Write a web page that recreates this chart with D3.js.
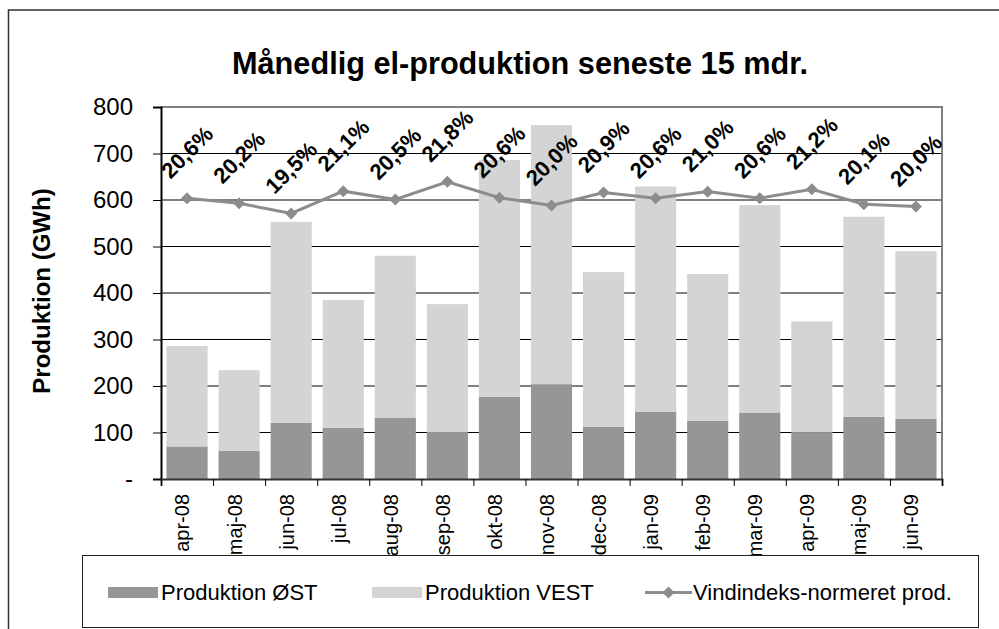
<!DOCTYPE html>
<html>
<head>
<meta charset="utf-8">
<script src="https://cdn.jsdelivr.net/npm/d3@7"></script>
<style>
  body { margin: 0; background: #fff; }
  text { font-family: "Liberation Sans", Arial, sans-serif; }
</style>
</head>
<body>
<div id="chart"></div>
<script>
const months = ["apr-08", "maj-08", "jun-08", "jul-08", "aug-08", "sep-08", "okt-08", "nov-08",
  "dec-08", "jan-09", "feb-09", "mar-09", "apr-09", "maj-09", "jun-09"]
const prodOst = [70, 61, 121, 110, 132, 102, 177, 204, 112, 145, 125, 143, 100, 134, 130]
const prodTotal = [286, 234, 553, 385, 480, 376, 686, 761, 445, 629, 441, 589, 339, 564, 490]
const vindNorm = [604, 593, 571, 619, 601, 639, 605, 588, 616, 604, 618, 604, 623, 591, 586]
const pctLabels = ["20,6%", "20,2%", "19,5%", "21,1%", "20,5%", "21,8%", "20,6%", "20,0%",
  "20,9%", "20,6%", "21,0%", "20,6%", "21,2%", "20,1%", "20,0%"]
const yTicks = [0, 100, 200, 300, 400, 500, 600, 700, 800]

const width = 999
const height = 629
const plotLeft = 161, plotRight = 942, plotTop = 107, plotBottom = 479

const darkGray = '#969696'
const lightGray = '#d4d4d4'
const lineGray = '#8c8c8c'

const data = months.map(function(m, i) {
  return { month: m, ost: prodOst[i], vest: prodTotal[i] - prodOst[i], norm: vindNorm[i], pct: pctLabels[i] }
})

const svg = d3.select('#chart').append('svg').attr('width', width).attr('height', height)

svg.append('rect').attr('width', width).attr('height', height).attr('fill', '#fff')

// outer chart frame (runs off the picture right and bottom)
svg.append('rect')
  .attr('x', 8.5).attr('y', 10)
  .attr('width', 1200).attr('height', 1000)
  .attr('fill', 'none').attr('stroke', '#333').attr('stroke-width', 1.5)

svg.append('text')
  .attr('x', 520).attr('y', 74)
  .attr('text-anchor', 'middle')
  .attr('font-size', '31px').attr('font-weight', 'bold')
  .attr('textLength', 576).attr('lengthAdjust', 'spacingAndGlyphs')
  .text('Månedlig el-produktion seneste 15 mdr.')

const xScale = d3.scaleBand().domain(months).range([plotLeft, plotRight]).paddingInner(0.21).paddingOuter(0.105)
const yScale = d3.scaleLinear().domain([0, 800]).range([plotBottom, plotTop])
const edgeScale = d3.scaleLinear().domain([0, months.length]).range([plotLeft, plotRight])

// gridlines
svg.append('g').selectAll('line').data(yTicks.slice(1)).enter()
  .append('line')
  .attr('x1', plotLeft).attr('x2', plotRight)
  .attr('y1', function(d) { return yScale(d) })
  .attr('y2', function(d) { return yScale(d) })
  .attr('stroke', '#000').attr('stroke-width', 1)

// plot area frame top/right
svg.append('path')
  .attr('d', 'M' + plotLeft + ',' + plotTop + 'H' + plotRight + 'V' + plotBottom)
  .attr('fill', 'none').attr('stroke', '#808080').attr('stroke-width', 2)

// stacked bars
const stack = d3.stack().keys(['ost', 'vest'])
const series = stack(data)
const colors = { ost: darkGray, vest: lightGray }

svg.append('g').selectAll('g').data(series).enter()
  .append('g')
  .attr('fill', function(s) { return colors[s.key] })
  .selectAll('rect').data(function(s) { return s }).enter()
  .append('rect')
  .attr('x', function(d) { return xScale(d.data.month) })
  .attr('width', xScale.bandwidth())
  .attr('y', function(d) { return yScale(d[1]) })
  .attr('height', function(d) { return yScale(d[0]) - yScale(d[1]) })

// y axis
const yAxis = d3.axisLeft(yScale).tickValues(yTicks).tickSize(8).tickPadding(20)
  .tickFormat(function(d) { return d === 0 ? '-' : d })
const yG = svg.append('g').attr('transform', 'translate(' + plotLeft + ',0)').call(yAxis)
yG.select('.domain').attr('stroke', '#000').attr('stroke-width', 2)
yG.selectAll('text').attr('font-size', '24px').attr('fill', '#000')
  .attr('font-family', '"Liberation Sans", Arial, sans-serif')

// x axis: ticks at category edges
const xAxis = d3.axisBottom(edgeScale).tickValues(d3.range(months.length + 1)).tickSize(7).tickFormat('')
const xG = svg.append('g').attr('transform', 'translate(0,' + plotBottom + ')').call(xAxis)
xG.select('.domain').attr('stroke', '#333').attr('stroke-width', 2)

svg.append('g').selectAll('text').data(months).enter()
  .append('text')
  .attr('transform', function(d) {
    return 'translate(' + (xScale(d) + xScale.bandwidth() / 2) + ',494) rotate(-90)'
  })
  .attr('text-anchor', 'end')
  .attr('dy', '0.12em')
  .attr('font-size', '20px')
  .text(function(d) { return d })

// y axis title
svg.append('text')
  .attr('transform', 'translate(50,291) rotate(-90)')
  .attr('text-anchor', 'middle')
  .attr('font-size', '24px').attr('font-weight', 'bold')
  .text('Produktion (GWh)')

// line + diamonds
const cx = function(d) { return xScale(d.month) + xScale.bandwidth() / 2 }
const line = d3.line().x(cx).y(function(d) { return yScale(d.norm) })

svg.append('path').datum(data)
  .attr('d', line)
  .attr('fill', 'none').attr('stroke', lineGray).attr('stroke-width', 3)

const diamond = d3.symbol().type(d3.symbolSquare).size(72)
svg.append('g').selectAll('path').data(data).enter()
  .append('path')
  .attr('d', diamond)
  .attr('transform', function(d) { return 'translate(' + cx(d) + ',' + yScale(d.norm) + ') rotate(45)' })
  .attr('fill', lineGray)

// percentage labels
svg.append('g').selectAll('text').data(data).enter()
  .append('text')
  .attr('transform', function(d) { return 'translate(' + cx(d) + ',' + (yScale(d.norm) - 46) + ') rotate(-45)' })
  .attr('text-anchor', 'middle')
  .attr('dy', '0.35em')
  .attr('font-size', '22px').attr('font-weight', 'bold')
  .text(function(d) { return d.pct })

// legend
const legend = svg.append('g')
legend.append('rect')
  .attr('x', 82.5).attr('y', 555.5).attr('width', 896).attr('height', 72)
  .attr('fill', '#fff').attr('stroke', '#222').attr('stroke-width', 1)

const legendItems = [
  { label: 'Produktion ØST', type: 'box', color: darkGray, x: 108 },
  { label: 'Produktion VEST', type: 'box', color: lightGray, x: 372 },
  { label: 'Vindindeks-normeret prod.', type: 'line', color: lineGray, x: 645 }
]

legendItems.forEach(function(item) {
  if (item.type === 'box') {
    legend.append('rect').attr('x', item.x).attr('y', 587).attr('width', 50).attr('height', 11).attr('fill', item.color)
    legend.append('text').attr('x', item.x + 53).attr('y', 600).attr('font-size', '22px').text(item.label)
  } else {
    legend.append('line').attr('x1', item.x).attr('x2', item.x + 47).attr('y1', 592.5).attr('y2', 592.5)
      .attr('stroke', item.color).attr('stroke-width', 3)
    legend.append('path').attr('d', diamond)
      .attr('transform', 'translate(' + (item.x + 23.5) + ',592.5) rotate(45)').attr('fill', item.color)
    legend.append('text').attr('x', item.x + 48).attr('y', 600).attr('font-size', '22px').text(item.label)
  }
})
</script>
</body>
</html>
